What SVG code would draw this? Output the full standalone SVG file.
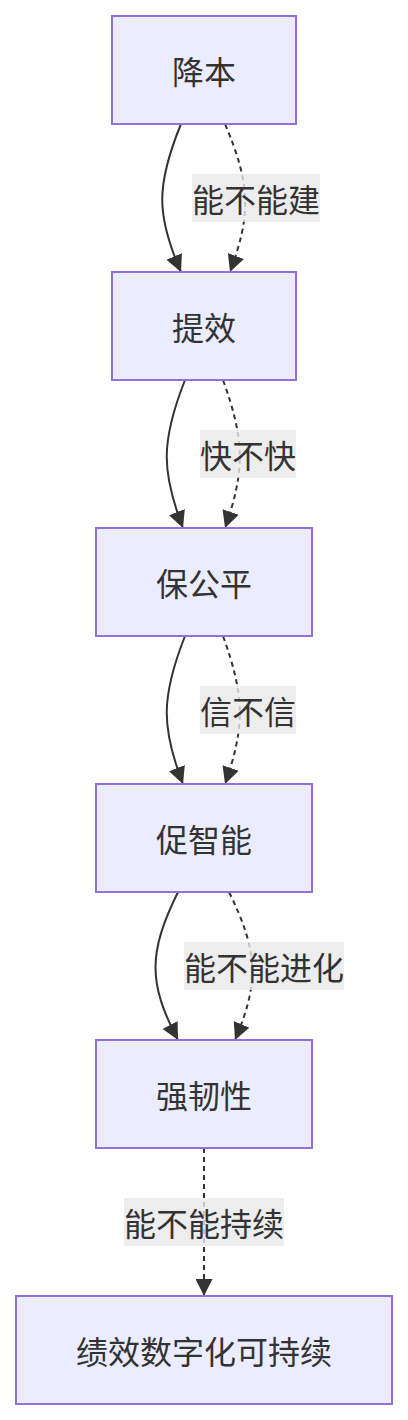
<svg xmlns="http://www.w3.org/2000/svg" width="408" height="1420" viewBox="0 0 408 1420">
<style>
.node rect{fill:#ECECFF;stroke:#9370DB;stroke-width:2}
text{font-family:"Noto Sans CJK SC","Noto Sans",sans-serif;font-size:32px;fill:#333;text-anchor:middle;dominant-baseline:central}
.edge{fill:none;stroke:#333;stroke-width:2}
.dot{stroke-dasharray:5 4}
.lbl rect{fill:#E8E8E8;fill-opacity:0.8}
</style>
<defs>
<marker id="arr" markerUnits="userSpaceOnUse" viewBox="0 0 16 16" refX="16" refY="8" markerWidth="17" markerHeight="17" orient="auto">
<path d="M0,0 L16,8 L0,16 z" fill="#333"/>
</marker>
</defs>
<g id="connectors">
<path class="edge" d="M181,124 C156,185 156,215 181,272" marker-end="url(#arr)"/>
<path class="edge dot" d="M225,124 C251,185 251,215 230,272" marker-end="url(#arr)"/>
<path class="edge" d="M185,380 C161,441 161,471 183,528" marker-end="url(#arr)"/>
<path class="edge dot" d="M223,380 C245,441 245,471 225,528" marker-end="url(#arr)"/>
<path class="edge" d="M185,636 C161,697 161,727 183,784" marker-end="url(#arr)"/>
<path class="edge dot" d="M223,636 C245,697 245,727 225,784" marker-end="url(#arr)"/>
<path class="edge" d="M178,892 C148,953 148,983 178,1040" marker-end="url(#arr)"/>
<path class="edge dot" d="M229,892 C259,953 259,983 235,1040" marker-end="url(#arr)"/>
<path class="edge dot" d="M204,1148 L204,1296" marker-end="url(#arr)"/>
</g>
<g id="labels">
<g class="lbl"><rect x="192" y="174" width="128" height="48"/><text x="256" y="198">能不能建</text></g>
<g class="lbl"><rect x="200" y="430" width="96" height="48"/><text x="248" y="454">快不快</text></g>
<g class="lbl"><rect x="200" y="686" width="96" height="48"/><text x="248" y="710">信不信</text></g>
<g class="lbl"><rect x="184" y="942" width="160" height="48"/><text x="264" y="966">能不能进化</text></g>
<g class="lbl"><rect x="124" y="1198" width="160" height="48"/><text x="204" y="1222">能不能持续</text></g>
</g>
<g id="n1" class="node"><rect x="112" y="16" width="184" height="108"/><text x="204" y="70">降本</text></g>
<g id="n2" class="node"><rect x="112" y="272" width="184" height="108"/><text x="204" y="326">提效</text></g>
<g id="n3" class="node"><rect x="96" y="528" width="216" height="108"/><text x="204" y="582">保公平</text></g>
<g id="n4" class="node"><rect x="96" y="784" width="216" height="108"/><text x="204" y="838">促智能</text></g>
<g id="n5" class="node"><rect x="96" y="1040" width="216" height="108"/><text x="204" y="1094">强韧性</text></g>
<g id="n6" class="node"><rect x="16" y="1296" width="376" height="108"/><text x="204" y="1350">绩效数字化可持续</text></g>
</svg>
